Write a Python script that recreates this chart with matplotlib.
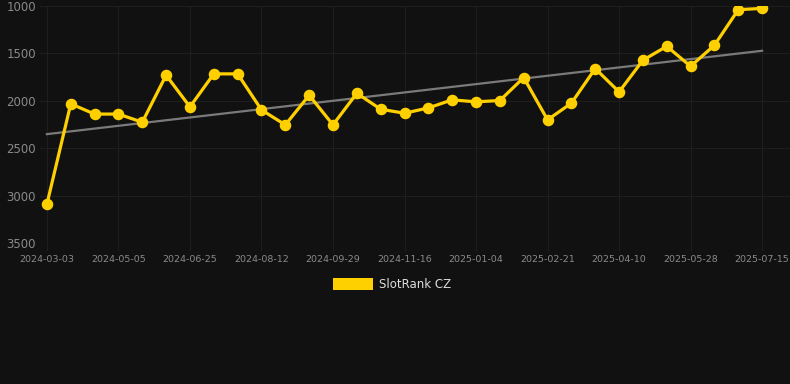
import matplotlib
matplotlib.use("Agg")
import matplotlib.pyplot as plt
from matplotlib.patches import Rectangle
import numpy as np

tick_labels = ["2024-03-03", "2024-05-05", "2024-06-25", "2024-08-12", "2024-09-29",
               "2024-11-16", "2025-01-04", "2025-02-21", "2025-04-10", "2025-05-28",
               "2025-07-15"]
ranks = [3090, 2032, 2140, 2140, 2226, 1730, 2064, 1716, 1716, 2096,
         2254, 1941, 2254, 1920, 2089, 2131, 2075, 1990, 2011, 1997,
         1755, 2201, 2025, 1660, 1906, 1572, 1425, 1636, 1414, 1039, 1025]
series_name = "SlotRank CZ"

BG = "#111111"
YEL = "#FFD000"
GRID = "#1e1e1e"
TXT = "#8a8a8a"

fig = plt.figure(figsize=(7.9, 3.84), dpi=100, facecolor=BG)
ax = fig.add_axes([40/790, 1-243/384, 750/790, 237/384])
ax.set_facecolor(BG)

x = np.arange(len(ranks))
y = np.array(ranks, dtype=float)
coef = np.polyfit(x, y, 1)
ax.plot(x, np.polyval(coef, x), color="#7a7a7a", lw=1.6, zorder=2)
ax.plot(x, y, color=YEL, lw=2.3, marker="o", markersize=7.3, zorder=3)

ax.set_ylim(3500, 1000)
ax.set_yticks([1000, 1500, 2000, 2500, 3000, 3500])
ax.set_xlim(-0.29, 31.17)
ax.set_xticks(x[::3])
ax.set_xticklabels(tick_labels)

ax.grid(True, color=GRID, lw=0.8)
for s in ax.spines.values():
    s.set_visible(False)
ax.tick_params(axis="y", length=0, pad=3, labelsize=8.5, labelcolor=TXT)
ax.tick_params(axis="x", length=6, color=GRID, pad=3, labelsize=6.8, labelcolor=TXT)

fig.patches.append(Rectangle((333/790, 1-290/384), 40/790, 12/384, transform=fig.transFigure,
                             facecolor=YEL, edgecolor="none"))
fig.text(379/790, 1-284/384, series_name, color="#dddddd", fontsize=8.5, va="center", ha="left")

fig.savefig("out.png", dpi=100, facecolor=BG)
